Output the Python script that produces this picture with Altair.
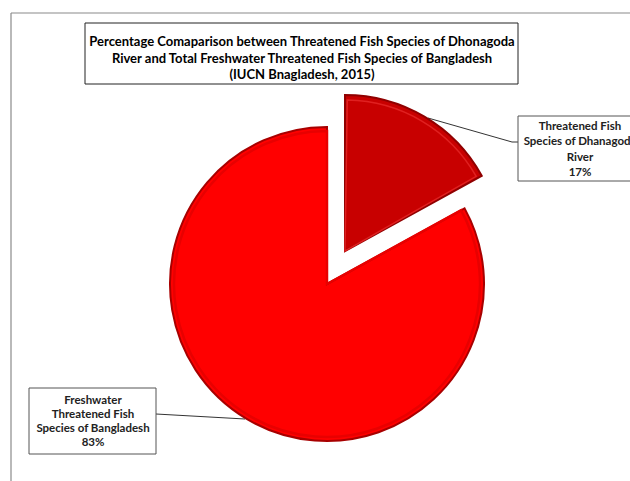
import math
import altair as alt
import pandas as pd

# ---- data ----
categories = [
    "Threatened Fish Species of Dhanagoda River",
    "Freshwater Threatened Fish Species of Bangladesh",
]
percent = [17, 83]
order = [1, 2]
slice_colors = ["#C80000", "#FF0000"]

title_lines = [
    "Percentage Comaparison between Threatened Fish Species of Dhonagoda",
    "River and Total Freshwater Threatened Fish Species of Bangladesh",
    "(IUCN Bnagladesh, 2015)",
]
small_label_lines = ["Threatened Fish", "Species of Dhanagoda", "River", f"{percent[0]}%"]
big_label_lines = ["Freshwater", "Threatened Fish", "Species of Bangladesh", f"{percent[1]}%"]

FONT = "Lato"
W, H = 630, 481

df = pd.DataFrame({"category": categories, "percent": percent, "order": order})
one = pd.DataFrame({"k": [0]})

base = (
    alt.Chart(df)
    .transform_window(end="sum(percent)", sort=[alt.SortField("order")], frame=[None, 0])
    .transform_calculate(start="datum.end - datum.percent")
)
theta = alt.Theta("start:Q", scale=alt.Scale(domain=[0, 100], range=[0, 2 * math.pi]))
color = alt.Color("category:N", scale=alt.Scale(domain=categories, range=slice_colors), legend=None)

big = base.transform_filter("datum.order == 2").mark_arc(
    radius=157, stroke="#A80000", strokeWidth=2
).encode(theta=theta, theta2="end:Q", color=color, x=alt.value(327), y=alt.value(284))
big_bevel = base.transform_filter("datum.order == 2").mark_arc(
    radius=153, fillOpacity=0, stroke="#E80000", strokeWidth=2.5
).encode(theta=theta, theta2="end:Q", x=alt.value(327), y=alt.value(284))

small = base.transform_filter("datum.order == 1").mark_arc(
    radius=156, stroke="#900000", strokeWidth=2
).encode(theta=theta, theta2="end:Q", color=color, x=alt.value(345), y=alt.value(251))
small_bevel = base.transform_filter("datum.order == 1").mark_arc(
    radius=151, fillOpacity=0, stroke="#E02020", strokeWidth=1.5, padAngle=0.03
).encode(theta=theta, theta2="end:Q", x=alt.value(345), y=alt.value(251))

frame_top = alt.Chart(one).mark_rule(color="#8a8a8a", strokeWidth=1.2).encode(
    x=alt.value(11), x2=alt.value(W), y=alt.value(13)
)
frame_left = alt.Chart(one).mark_rule(color="#8a8a8a", strokeWidth=1.2).encode(
    x=alt.value(11), y=alt.value(13), y2=alt.value(H)
)

def box(x1, x2, y1, y2, color="#222222"):
    return alt.Chart(one).mark_rect(fill="white", stroke=color, strokeWidth=1).encode(
        x=alt.value(x1), x2=alt.value(x2), y=alt.value(y1), y2=alt.value(y2)
    )

def seg(x1, y1, x2, y2):
    return alt.Chart(one).mark_rule(color="#333333", strokeWidth=1).encode(
        x=alt.value(x1), y=alt.value(y1), x2=alt.value(x2), y2=alt.value(y2)
    )

title_box = box(85, 518, 23, 84)
title_text = alt.Chart(one).mark_text(
    font=FONT, fontSize=13, fontWeight="bold", color="#000000", lineHeight=16.5,
    align="center", baseline="middle",
).encode(x=alt.value(302), y=alt.value(42), text=alt.value(title_lines))

lead_small1 = seg(428, 118, 512, 142)
lead_small2 = seg(512, 142, 518, 142)
small_box = box(518, 650, 116, 181, "#555555")
small_text = alt.Chart(one).mark_text(
    font=FONT, fontSize=11.5, fontWeight="bold", color="#222222", lineHeight=15.3,
    align="center", baseline="middle",
).encode(x=alt.value(580), y=alt.value(127), text=alt.value(small_label_lines))

lead_big = seg(156, 414, 245, 419)
big_box = box(29, 156, 388, 454, "#555555")
big_text = alt.Chart(one).mark_text(
    font=FONT, fontSize=11.5, fontWeight="bold", color="#222222", lineHeight=14,
    align="center", baseline="middle",
).encode(x=alt.value(93), y=alt.value(401), text=alt.value(big_label_lines))

chart = alt.layer(
    frame_top, frame_left,
    lead_small1, lead_small2, lead_big,
    big, big_bevel, small, small_bevel,
    title_box, title_text,
    small_box, small_text,
    big_box, big_text,
).properties(width=W, height=H, autosize="none", padding=0).configure_view(stroke=None)

chart.save("out.html", embed_options={"renderer": "svg", "actions": False})
